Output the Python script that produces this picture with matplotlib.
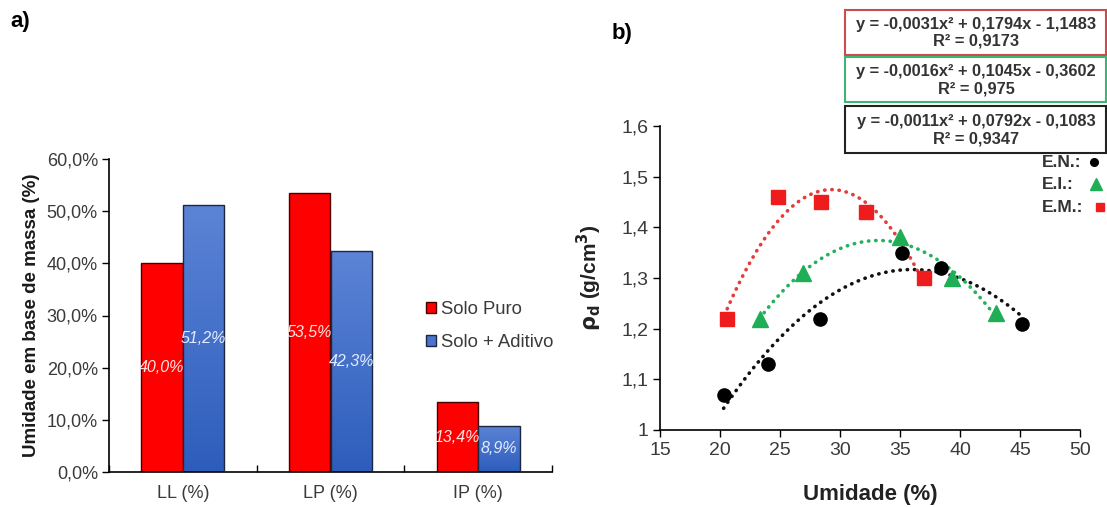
import numpy as np
import matplotlib
matplotlib.use("Agg")
import matplotlib.pyplot as plt
from matplotlib.ticker import FuncFormatter, MultipleLocator
from matplotlib.patches import Rectangle
from matplotlib.lines import Line2D
from matplotlib.colors import LinearSegmentedColormap

plt.rcParams['font.family'] = ['Liberation Sans', 'DejaVu Sans']

# ---------------- data: panel a ----------------
categories = ["LL (%)", "LP (%)", "IP (%)"]
solo_puro = [40.0, 53.5, 13.4]
solo_aditivo = [51.2, 42.3, 8.9]
series_labels = ["Solo Puro", "Solo + Aditivo"]

# ---------------- data: panel b ----------------
en_x = [20.3, 24.0, 28.3, 35.2, 38.4, 45.2]
en_y = [1.07, 1.13, 1.22, 1.35, 1.32, 1.21]
ei_x = [23.3, 26.9, 35.0, 39.3, 43.0]
ei_y = [1.22, 1.31, 1.38, 1.30, 1.23]
em_x = [20.6, 24.8, 28.4, 32.2, 37.0]
em_y = [1.22, 1.46, 1.45, 1.43, 1.30]
eq_texts = [
    ("y = -0,0031x\u00b2 + 0,1794x - 1,1483", "R\u00b2 = 0,9173"),
    ("y = -0,0016x\u00b2 + 0,1045x - 0,3602", "R\u00b2 = 0,975"),
    ("y = -0,0011x\u00b2 + 0,0792x - 0,1083", "R\u00b2 = 0,9347"),
]
legend_b = ["E.N.:", "E.I.:", "E.M.:"]

W, H = 1107, 507
fig = plt.figure(figsize=(W / 100, H / 100), dpi=100)

def fx(px):
    return px / W

def fy(py):
    return 1 - py / H

tick_color = "#3a3a3a"

# ================= panel a =================
axa = fig.add_axes([fx(109), fy(472), (552 - 109) / W, (472 - 159) / H])
x = np.arange(len(categories))
bw = 0.282
off = 0.141
red = "#ff0000"
red_edge = "#4a0000"
blue_edge = "#1c2740"
bars_r = axa.bar(x - off, solo_puro, bw, color=red, edgecolor=red_edge, linewidth=1.0, zorder=2)
bars_b = axa.bar(x + off, solo_aditivo, bw, color="#4a74cc", edgecolor=blue_edge, linewidth=1.0,
                 zorder=2)

# gradient fill for blue bars
grad = np.linspace(0, 1, 256).reshape(-1, 1)
cmap_b = LinearSegmentedColormap.from_list("bl", ["#5c84d6", "#2d5dbc"])
for b in bars_b:
    x0, y0 = b.get_x(), b.get_y()
    w, h = b.get_width(), b.get_height()
    im = axa.imshow(grad, extent=[x0, x0 + w, y0, y0 + h], origin="upper", cmap=cmap_b,
                    aspect="auto", zorder=2.5)
    im.set_clip_path(b)
    b.set_facecolor("none")
    b.set_zorder(3)

def pct(v):
    return f"{v:.1f}".replace(".", ",") + "%"

for b, v in zip(bars_r, solo_puro):
    axa.text(b.get_x() + b.get_width() / 2, v / 2, pct(v), ha="center", va="center",
             color="#ffe4e4", fontsize=11.5, style="italic", zorder=4)
for b, v in zip(bars_b, solo_aditivo):
    axa.text(b.get_x() + b.get_width() / 2, v / 2, pct(v), ha="center", va="center",
             color="#e4ecff", fontsize=11.5, style="italic", zorder=4)

axa.set_xlim(-0.5, 2.5)
axa.set_ylim(0, 60)
axa.yaxis.set_major_locator(MultipleLocator(10))
axa.yaxis.set_major_formatter(FuncFormatter(lambda v, p: pct(v)))
axa.set_xticks(x)
axa.set_xticklabels(categories)
axa.set_xticks([-0.5, 0.5, 1.5, 2.5], minor=True)
axa.tick_params(axis="x", which="major", length=0, pad=9, labelsize=13, labelcolor=tick_color)
axa.tick_params(axis="x", which="minor", length=5, direction="in", width=1)
axa.tick_params(axis="y", length=5, direction="out", width=1, labelsize=13, labelcolor=tick_color, pad=3)
for s in ["top", "right"]:
    axa.spines[s].set_visible(False)
for s in ["left", "bottom"]:
    axa.spines[s].set_linewidth(1.2)
axa.set_ylabel("Umidade em base de massa (%)", fontsize=13.5, fontweight="bold", color="#1a1a1a",
               labelpad=5)
handles = [Rectangle((0, 0), 1, 1, facecolor=red, edgecolor=red_edge, linewidth=1.0),
           Rectangle((0, 0), 1, 1, facecolor="#4a74cc", edgecolor=blue_edge, linewidth=1.0)]
leg = axa.legend(handles, series_labels, loc="upper left", bbox_to_anchor=(fx(426), fy(301)),
                 bbox_transform=fig.transFigure, frameon=False, fontsize=13.3,
                 handlelength=0.52, handleheight=0.52, handletextpad=0.3, labelspacing=0.85,
                 borderaxespad=0, borderpad=0)
for t in leg.get_texts():
    t.set_color(tick_color)
fig.text(fx(10), fy(22), "a)", fontsize=16, fontweight="bold", ha="left", va="center")

# ================= panel b =================
axb = fig.add_axes([fx(660), fy(430), (1080 - 660) / W, (430 - 126) / H])
dot = dict(linestyle=(0, (0.1, 1.9)), dash_capstyle="round", linewidth=2.6)
series = [
    (en_x, en_y, "black", "o", 9.5),
    (ei_x, ei_y, "#1fae55", "^", 11),
    (em_x, em_y, "#ee1c1c", "s", 9.5),
]
trend_colors = ["#111111", "#22b25c", "#e53b3b"]
for (sx, sy, c, m, ms), tc in zip(series, trend_colors):
    coef = np.polyfit(sx, sy, 2)
    xx = np.linspace(min(sx), max(sx), 200)
    axb.plot(xx, np.polyval(coef, xx), color=tc, zorder=2, **dot)
for sx, sy, c, m, ms in series:
    axb.plot(sx, sy, linestyle="none", marker=m, color=c, markersize=ms, zorder=3)

axb.set_xlim(15, 50)
axb.set_ylim(1.0, 1.6)
axb.xaxis.set_major_locator(MultipleLocator(5))
axb.yaxis.set_major_locator(MultipleLocator(0.1))
axb.yaxis.set_major_formatter(FuncFormatter(lambda v, p: ("%g" % round(v, 1)).replace(".", ",")))
axb.tick_params(axis="both", length=5, direction="out", width=1, labelsize=14, labelcolor=tick_color)
for s in ["top", "right"]:
    axb.spines[s].set_visible(False)
for s in ["left", "bottom"]:
    axb.spines[s].set_linewidth(1.2)
axb.set_xlabel("Umidade (%)", fontsize=16, fontweight="bold", color="#222222", labelpad=18)
axb.set_ylabel(r"$\mathbf{\rho_d}$ (g/cm$\mathbf{^3}$)", fontsize=15, fontweight="bold",
               color="#222222", labelpad=12)
fig.text(fx(612), fy(33), "b)", fontsize=16, fontweight="bold", ha="left", va="center")

# equation boxes
box_specs = [(10, 55, "#cc4b4b"), (57, 102, "#3fb574"), (106, 153, "#222222")]
for (top, bot, ec), (l1, l2) in zip(box_specs, eq_texts):
    r = Rectangle((fx(845), fy(bot)), (1106 - 845) / W, (bot - top) / H, transform=fig.transFigure,
                  facecolor="white", edgecolor=ec, linewidth=1.5, zorder=5)
    fig.add_artist(r)
    cx = fx(976)
    fig.text(cx, fy(top + (bot - top) * 0.33), l1, ha="center", va="center", fontsize=11.8,
             fontweight="bold", color="#333333", zorder=6)
    fig.text(cx, fy(top + (bot - top) * 0.70), l2, ha="center", va="center", fontsize=11.8,
             fontweight="bold", color="#333333", zorder=6)

# right legend
leg_rows = [(162, "black", "o", 5.5, 1094), (184, "#1fae55", "^", 9, 1096), (207, "#ee1c1c", "s", 6, 1100)]
for lab, (yy, c, m, ms, mx) in zip(legend_b, leg_rows):
    fig.text(fx(1042), fy(yy), lab, ha="left", va="center", fontsize=12.5, fontweight="bold",
             color="#333333")
    fig.add_artist(Line2D([fx(mx)], [fy(yy)], transform=fig.transFigure, marker=m, color=c,
                          markersize=ms, linestyle="none"))

fig.savefig("out.png", dpi=100)
